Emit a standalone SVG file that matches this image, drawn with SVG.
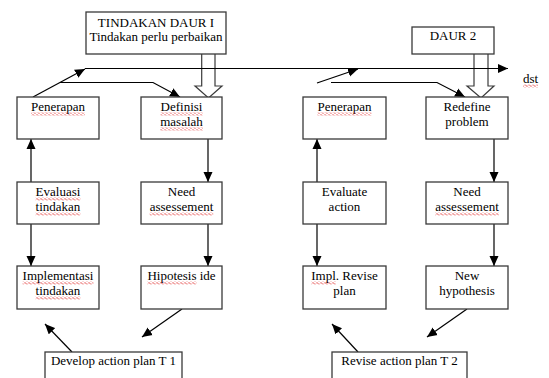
<svg xmlns="http://www.w3.org/2000/svg" width="549" height="378" viewBox="0 0 549 378">
<style>
.box{fill:#fff;stroke:#3a3a3a;stroke-width:1.3}
.ln{fill:none;stroke:#000;stroke-width:1.2}
.blk{fill:none;stroke:#3a3a3a;stroke-width:1.2}
text{font-family:"Liberation Serif","Times New Roman",serif;font-size:13px;fill:#000;text-anchor:middle}
.sq{fill:url(#wave)}
</style>
<defs>
<marker id="ah" markerUnits="userSpaceOnUse" markerWidth="10" markerHeight="10" viewBox="0 0 10 10" refX="10" refY="5" orient="auto">
<path d="M0,0.5 L10,5 L0,9.5 Z" fill="#000"/>
</marker>
<pattern id="wave" patternUnits="userSpaceOnUse" width="4" height="3">
<path d="M0,1.5 L1,0.5 L3,2.5 L4,1.5" fill="none" stroke="#e02020" stroke-width="0.8"/>
</pattern>
</defs>
<rect width="549" height="378" fill="#fff"/>

<g id="connectors">
<path class="blk" d="M201.7,54 V86 H195 L208.5,98 L222,86 H215 V54"/>
<path class="blk" d="M474,54 V86 H467 L481,98 L494,86 H488 V54"/>
<line class="ln" x1="85" y1="68.5" x2="508" y2="68.5" marker-end="url(#ah)"/>
<line class="ln" x1="33" y1="97" x2="85" y2="69" marker-end="url(#ah)"/>
<polyline class="ln" points="60,82.5 153,82.5 180,97" marker-end="url(#ah)"/>
<line class="ln" x1="317" y1="83" x2="358" y2="69" marker-end="url(#ah)"/>
<polyline class="ln" points="331,82.5 437,82.5 465,97" marker-end="url(#ah)"/>
<line class="ln" x1="31" y1="182" x2="31" y2="139" marker-end="url(#ah)"/>
<line class="ln" x1="31" y1="224" x2="31" y2="266" marker-end="url(#ah)"/>
<line class="ln" x1="208" y1="139" x2="208" y2="182" marker-end="url(#ah)"/>
<line class="ln" x1="208" y1="224" x2="208" y2="266" marker-end="url(#ah)"/>
<line class="ln" x1="317" y1="182" x2="317" y2="139" marker-end="url(#ah)"/>
<line class="ln" x1="317" y1="224" x2="317" y2="266" marker-end="url(#ah)"/>
<line class="ln" x1="494" y1="139" x2="494" y2="182" marker-end="url(#ah)"/>
<line class="ln" x1="494" y1="224" x2="494" y2="266" marker-end="url(#ah)"/>
<line class="ln" x1="72" y1="352" x2="45" y2="324" marker-end="url(#ah)"/>
<line class="ln" x1="182" y1="309" x2="142" y2="337" marker-end="url(#ah)"/>
<line class="ln" x1="358" y1="352" x2="332" y2="324" marker-end="url(#ah)"/>
<line class="ln" x1="467" y1="309" x2="427" y2="337" marker-end="url(#ah)"/>
</g>

<g id="tindakan-daur-1">
<rect class="box" x="86" y="12" width="140" height="42"/>
<text x="156" y="27">TINDAKAN DAUR I</text>
<text x="156" y="40.5">Tindakan perlu perbaikan</text>
</g>
<g id="daur-2">
<rect class="box" x="412" y="27" width="82" height="27"/>
<text x="453" y="40">DAUR 2</text>
</g>
<g id="dst">
<text x="530.5" y="83">dst</text>
<rect class="sq" x="523" y="84.5" width="15" height="3"/>
</g>

<g id="penerapan-1">
<rect class="box" x="17" y="97" width="82" height="42"/>
<text x="58" y="111">Penerapan</text>
<rect class="sq" x="31" y="112.5" width="54" height="3"/>
</g>
<g id="definisi-masalah">
<rect class="box" x="141" y="97" width="81" height="42"/>
<text x="181.5" y="111">Definisi</text>
<text x="181.5" y="126">masalah</text>
<rect class="sq" x="160.5" y="112.5" width="42" height="3"/>
<rect class="sq" x="160.2" y="127.5" width="42.6" height="3"/>
</g>
<g id="evaluasi-tindakan">
<rect class="box" x="17" y="182" width="82" height="42"/>
<text x="58" y="196">Evaluasi</text>
<text x="58" y="211">tindakan</text>
<rect class="sq" x="35.6" y="197.5" width="44.8" height="3"/>
<rect class="sq" x="35.6" y="212.5" width="44.8" height="3"/>
</g>
<g id="need-assessement-1">
<rect class="box" x="141" y="182" width="81" height="42"/>
<text x="181.5" y="196">Need</text>
<text x="181.5" y="211">assessement</text>
<rect class="sq" x="149.7" y="212.5" width="63.5" height="3"/>
</g>
<g id="implementasi-tindakan">
<rect class="box" x="17" y="266" width="82" height="43"/>
<text x="58" y="280">Implementasi</text>
<text x="58" y="295">tindakan</text>
<rect class="sq" x="22.6" y="281.5" width="70.8" height="3"/>
<rect class="sq" x="35.6" y="296.5" width="44.8" height="3"/>
</g>
<g id="hipotesis-ide">
<rect class="box" x="141" y="266" width="81" height="43"/>
<text x="181.5" y="280">Hipotesis ide</text>
<rect class="sq" x="147.4" y="281.5" width="49.1" height="3"/>
</g>
<g id="develop-action-plan">
<rect class="box" x="45" y="352" width="137" height="40"/>
<text x="113.5" y="365">Develop action plan T 1</text>
</g>

<g id="penerapan-2">
<rect class="box" x="303" y="97" width="83" height="42"/>
<text x="344.5" y="111">Penerapan</text>
<rect class="sq" x="317.5" y="112.5" width="54" height="3"/>
</g>
<g id="redefine-problem">
<rect class="box" x="426" y="97" width="82" height="42"/>
<text x="467" y="111">Redefine</text>
<text x="467" y="126">problem</text>
</g>
<g id="evaluate-action">
<rect class="box" x="303" y="182" width="83" height="42"/>
<text x="344.5" y="196">Evaluate</text>
<text x="344.5" y="211">action</text>
</g>
<g id="need-assessement-2">
<rect class="box" x="426" y="182" width="82" height="42"/>
<text x="467" y="196">Need</text>
<text x="467" y="211">assessement</text>
<rect class="sq" x="435.2" y="212.5" width="63.5" height="3"/>
</g>
<g id="impl-revise-plan">
<rect class="box" x="303" y="266" width="83" height="43"/>
<text x="344.5" y="280">Impl. Revise</text>
<text x="344.5" y="295">plan</text>
<rect class="sq" x="311.3" y="281.5" width="24.6" height="3"/>
</g>
<g id="new-hypothesis">
<rect class="box" x="426" y="266" width="82" height="43"/>
<text x="467" y="280">New</text>
<text x="467" y="295">hypothesis</text>
</g>
<g id="revise-action-plan">
<rect class="box" x="332" y="352" width="135" height="40"/>
<text x="399.5" y="365">Revise action plan T 2</text>
</g>
</svg>
